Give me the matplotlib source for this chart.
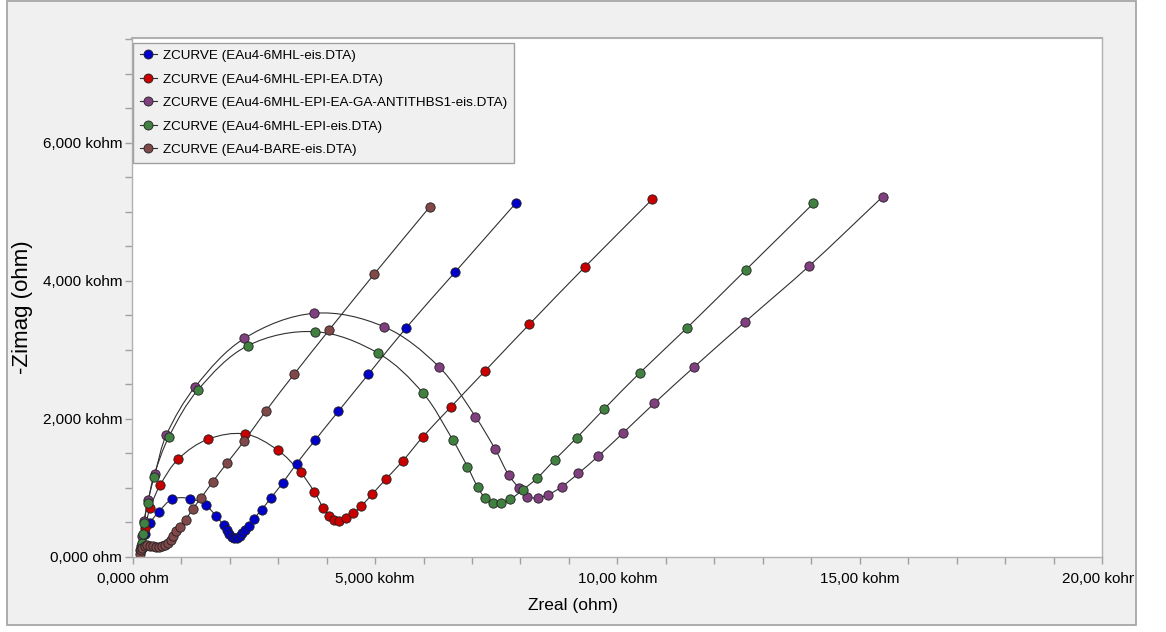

# Nyquist plot of EIS data (Gamry style)

import numpy as np
import matplotlib
matplotlib.use("Agg")
import matplotlib.pyplot as plt
from matplotlib.patches import Rectangle, PathPatch
from matplotlib.path import Path
from matplotlib.lines import Line2D
from matplotlib.transforms import Bbox, TransformedBbox

plt.rcParams['font.family'] = ['Liberation Sans', 'DejaVu Sans']

# Data (Zreal, -Zimag) in ohm

# EAu4-6MHL-eis
blue_x = [190, 247, 350, 541, 816, 1187, 1502, 1722, 1875, 1945, 1995, 2045, 2095, 2145,
          2205, 2265, 2325, 2390, 2500, 2661, 2854, 3093, 3381, 3765, 4245, 4862, 5644, 6660, 7901]
blue_y = [150, 326, 481, 652, 830, 840, 742, 587, 450, 378, 325, 288, 266, 266,
          292, 335, 388, 442, 550, 678, 852, 1065, 1345, 1688, 2106, 2641, 3316, 4128, 5119]

# EAu4-6MHL-EPI-EA
red_x = [250, 362, 562, 940, 1549, 2318, 2990, 3464, 3745, 3936, 4053, 4156, 4259, 4396,
         4547, 4718, 4944, 5220, 5576, 5988, 6557, 7274, 8183, 9335, 10720]
red_y = [420, 710, 1030, 1413, 1699, 1775, 1543, 1218, 939, 698, 587, 529, 519, 562,
         626, 732, 906, 1119, 1388, 1736, 2162, 2693, 3365, 4200, 5177]

# EAu4-6MHL-EPI-EA-GA-ANTITHBS1-eis
purple_x = [170, 200, 240, 320, 460, 693, 1290, 2305, 3745, 5185, 6317, 7072, 7479, 7757,
            7977, 8142, 8354, 8574, 8854, 9198, 9609, 10123, 10761, 11590, 12640, 13963, 15473]
purple_y = [150, 300, 520, 820, 1200, 1761, 2461, 3162, 3525, 3330, 2751, 2026, 1554, 1181,
            988, 867, 852, 896, 1012, 1206, 1457, 1794, 2220, 2751, 3403, 4214, 5214]

# EAu4-6MHL-EPI-eis
green_x = [160, 185, 206, 226, 309, 432, 747, 1344, 2373, 3765, 5068, 5994, 6605, 6907,
           7119, 7274, 7435, 7599, 7792, 8045, 8340, 8704, 9163, 9733, 10467, 11440, 12648, 14047]
green_y = [100, 200, 326, 490, 771, 1157, 1736, 2413, 3055, 3258, 2945, 2365, 1688, 1302,
           1003, 843, 771, 771, 829, 964, 1133, 1399, 1722, 2142, 2664, 3316, 4152, 5119]

# EAu4-BARE-eis
brown_x = [150, 165, 200, 250, 300, 360, 420, 480, 540, 600, 660, 720, 780, 840, 900, 970,
           1090, 1240, 1413, 1652, 1940, 2305, 2751, 3333, 4053, 4979, 6132]
brown_y = [40, 90, 130, 150, 160, 155, 145, 140, 138, 145, 160, 195, 240, 300, 365, 430,
           530, 690, 852, 1084, 1351, 1678, 2113, 2645, 3283, 4090, 5070]

labels = ["ZCURVE (EAu4-6MHL-eis.DTA)",
          "ZCURVE (EAu4-6MHL-EPI-EA.DTA)",
          "ZCURVE (EAu4-6MHL-EPI-EA-GA-ANTITHBS1-eis.DTA)",
          "ZCURVE (EAu4-6MHL-EPI-eis.DTA)",
          "ZCURVE (EAu4-BARE-eis.DTA)"]
colors = ["#0000c8", "#c80000", "#804080", "#408040", "#804848"]

x_ticks = [0, 5000, 10000, 15000, 20000]
x_ticklabels = ["0,000 ohm", "5,000 kohm", "10,00 kohm", "15,00 kohm", "20,00 kohm"]
y_ticks = [0, 2000, 4000, 6000]
y_ticklabels = ["0,000 ohm", "2,000 kohm", "4,000 kohm", "6,000 kohm"]

series = [(blue_x, blue_y), (red_x, red_y), (purple_x, purple_y),
          (green_x, green_y), (brown_x, brown_y)]


def smooth_path(xs, ys, kx=0.0486, ky=0.069):
    # Bezier path through the markers (tangents taken in screen proportions)
    p = np.column_stack([np.asarray(xs, float) * kx, np.asarray(ys, float) * ky])
    n = len(p)
    tang = np.zeros_like(p)
    for i in range(n):
        d = p[min(i + 1, n - 1)] - p[max(i - 1, 0)]
        tang[i] = d / np.hypot(*d)
    verts = [p[0]]
    codes = [Path.MOVETO]
    for i in range(n - 1):
        L = np.hypot(*(p[i + 1] - p[i])) / 3
        verts += [p[i] + tang[i] * L, p[i + 1] - tang[i + 1] * L, p[i + 1]]
        codes += [Path.CURVE4] * 3
    verts = np.array(verts) / [kx, ky]
    return Path(verts, codes)


# Figure and grey panel
fig = plt.figure(figsize=(11.66, 6.32), dpi=100)
fig.patch.set_facecolor("white")
W, H = 1166, 632
panel = Rectangle((7 / W, 1 - 625 / H), (1136 - 7) / W, (625 - 1) / H,
                  transform=fig.transFigure, facecolor="#f0f0f0",
                  edgecolor="#a0a0a0", linewidth=1.2, zorder=-10)
fig.patches.append(panel)

ax = fig.add_axes([132 / W, 1 - 556.5 / H, (1102 - 132) / W, (556.5 - 38) / H])
ax.set_facecolor("white")

handles = []
for (xs, ys), c, lab in zip(series, colors, labels):
    ax.add_patch(PathPatch(smooth_path(xs, ys), facecolor="none",
                           edgecolor="#303030", linewidth=0.8))
    ax.plot(xs, ys, linestyle="none", marker="o", markersize=6.7,
            markerfacecolor=c, markeredgecolor="#202020", markeredgewidth=0.6)
    handles.append(Line2D([], [], color="#303030", linewidth=0.8, marker="o",
                          markersize=6.5, markerfacecolor=c,
                          markeredgecolor="#202020", markeredgewidth=0.6, label=lab))

ax.set_xlim(-15, 20000)
ax.set_ylim(0, 7515)

ax.set_xticks(x_ticks)
ax.set_xticklabels(x_ticklabels, fontsize=11)
ax.set_xticks(np.arange(0, 20001, 1000), minor=True)
ax.set_yticks(y_ticks)
ax.set_yticklabels(y_ticklabels, fontsize=11)
ax.set_yticks(np.arange(0, 7501, 500), minor=True)

ax.tick_params(axis="both", which="both", direction="out", color="#a0a0a0",
               length=5, width=1, pad=3)
ax.tick_params(axis="x", which="both", pad=6.5)
ax.tick_params(axis="y", which="major", pad=2)

for side in ["left", "bottom", "top", "right"]:
    ax.spines[side].set_color("#b0b0b0")
    ax.spines[side].set_linewidth(1.0)
ax.spines["top"].set_linewidth(1.5)

# Clip tick labels at the panel edge (the last one is cut in the original)
clip = TransformedBbox(Bbox([[7 / W, 0], [1134 / W, 1]]), fig.transFigure)
for t in ax.get_xticklabels():
    t.set_clip_box(clip)
    t.set_clip_on(True)

ax.set_xlabel("Zreal (ohm)", fontsize=12.5)
ax.xaxis.set_label_coords((573 - 132) / 970, (556.5 - 598) / 518.5)
ax.set_ylabel("-Zimag (ohm)", fontsize=16)
ax.yaxis.set_label_coords((33 - 132) / 970, (556.5 - 307) / 518.5)

leg = ax.legend(handles=handles, loc="upper left",
                bbox_to_anchor=(1 / 970, 1 - 5 / 518.5),
                fontsize=9.7, frameon=True, fancybox=False, framealpha=1,
                handlelength=1.3, handletextpad=0.4, labelspacing=0.82,
                borderpad=0.5, borderaxespad=0)
leg.get_frame().set_facecolor("#f0f0f0")
leg.get_frame().set_edgecolor("#a0a0a0")
leg.get_frame().set_linewidth(1.0)

fig.savefig("out.png", dpi=100)
